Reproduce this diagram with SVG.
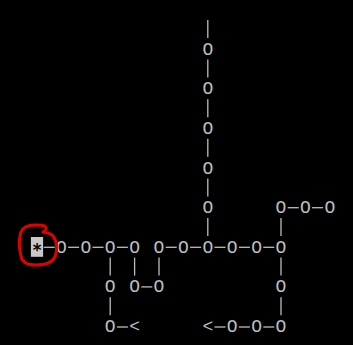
<svg xmlns="http://www.w3.org/2000/svg" width="353" height="345" viewBox="0 0 353 345">
<style>
.n{font-family:"Liberation Mono","DejaVu Sans Mono",monospace;font-size:18px;fill:#bdbdbd;text-anchor:middle}
.c line{stroke:#bdbdbd;stroke-width:1.3}
.star{font-family:"DejaVu Sans Mono","Liberation Mono",monospace;font-size:17px;font-weight:bold;fill:#000;text-anchor:middle}
</style>
<rect width="353" height="345" fill="#000"/>
<g id="connectors" class="c">
<line x1="43.7" y1="247.3" x2="54.7" y2="247.3"/>
<line x1="68.1" y1="247.3" x2="79.1" y2="247.3"/>
<line x1="92.5" y1="247.3" x2="103.5" y2="247.3"/>
<line x1="116.9" y1="247.3" x2="127.9" y2="247.3"/>
<line x1="165.7" y1="247.3" x2="176.7" y2="247.3"/>
<line x1="190.1" y1="247.3" x2="201.1" y2="247.3"/>
<line x1="214.5" y1="247.3" x2="225.5" y2="247.3"/>
<line x1="238.9" y1="247.3" x2="249.9" y2="247.3"/>
<line x1="263.3" y1="247.3" x2="274.3" y2="247.3"/>
<line x1="287.7" y1="207.7" x2="298.7" y2="207.7"/>
<line x1="312.1" y1="207.7" x2="323.1" y2="207.7"/>
<line x1="141.3" y1="286.9" x2="152.3" y2="286.9"/>
<line x1="116.9" y1="327" x2="127.9" y2="327"/>
<line x1="214.5" y1="327" x2="225.5" y2="327"/>
<line x1="238.9" y1="327" x2="249.9" y2="327"/>
<line x1="263.3" y1="327" x2="274.3" y2="327"/>
<line x1="207.8" y1="20" x2="207.8" y2="38"/>
<line x1="207.8" y1="59.6" x2="207.8" y2="77.6"/>
<line x1="207.8" y1="99.2" x2="207.8" y2="117.2"/>
<line x1="207.8" y1="138.8" x2="207.8" y2="156.8"/>
<line x1="207.8" y1="178.4" x2="207.8" y2="196.4"/>
<line x1="207.8" y1="218" x2="207.8" y2="236"/>
<line x1="281" y1="218" x2="281" y2="236"/>
<line x1="281" y1="257.6" x2="281" y2="275.6"/>
<line x1="281" y1="297.2" x2="281" y2="315.2"/>
<line x1="110.2" y1="257.6" x2="110.2" y2="275.6"/>
<line x1="110.2" y1="297.2" x2="110.2" y2="315.2"/>
<line x1="134.6" y1="257.6" x2="134.6" y2="275.6"/>
<line x1="159" y1="257.6" x2="159" y2="275.6"/>
</g>
<g id="cursor">
<rect x="30.9" y="237" width="12.2" height="19.8" fill="#c8c8c8"/>
<text class="star" x="37" y="256">*</text>
</g>
<g id="v1"><text class="n" x="207.8" y="54.8">O</text></g>
<g id="v2"><text class="n" x="207.8" y="94.4">O</text></g>
<g id="v3"><text class="n" x="207.8" y="134">O</text></g>
<g id="v4"><text class="n" x="207.8" y="173.6">O</text></g>
<g id="v5"><text class="n" x="207.8" y="213.2">O</text></g>
<g id="m2"><text class="n" x="61.4" y="252.8">O</text></g>
<g id="m4"><text class="n" x="85.8" y="252.8">O</text></g>
<g id="m6"><text class="n" x="110.2" y="252.8">O</text></g>
<g id="m8"><text class="n" x="134.6" y="252.8">O</text></g>
<g id="m10"><text class="n" x="159" y="252.8">O</text></g>
<g id="m12"><text class="n" x="183.4" y="252.8">O</text></g>
<g id="m14"><text class="n" x="207.8" y="252.8">O</text></g>
<g id="m16"><text class="n" x="232.2" y="252.8">O</text></g>
<g id="m18"><text class="n" x="256.6" y="252.8">O</text></g>
<g id="m20"><text class="n" x="281" y="252.8">O</text></g>
<g id="t20"><text class="n" x="281" y="213.2">O</text></g>
<g id="t22"><text class="n" x="305.4" y="213.2">O</text></g>
<g id="t24"><text class="n" x="329.8" y="213.2">O</text></g>
<g id="b6"><text class="n" x="110.2" y="292.4">O</text></g>
<g id="b8"><text class="n" x="134.6" y="292.4">O</text></g>
<g id="b10"><text class="n" x="159" y="292.4">O</text></g>
<g id="b20"><text class="n" x="281" y="292.4">O</text></g>
<g id="e6"><text class="n" x="110.2" y="332">O</text></g>
<g id="e8"><text class="n" x="134.6" y="332">&lt;</text></g>
<g id="e14"><text class="n" x="207.8" y="332">&lt;</text></g>
<g id="e16"><text class="n" x="232.2" y="332">O</text></g>
<g id="e18"><text class="n" x="256.6" y="332">O</text></g>
<g id="e20"><text class="n" x="281" y="332">O</text></g>
<path id="mark" d="M43 232 C47 233 51 233 53 236 C57 241 58 250 55 257 C52 263 45 265 36 265 C28 265 22 263 21 256 C19 248 19 238 21 232 C23 227 28 225 35 225 C39 225 43 225 45 226 C47 228 46 231 43 232" fill="none" stroke="#e00000" stroke-width="3" stroke-linecap="round"/>
</svg>
